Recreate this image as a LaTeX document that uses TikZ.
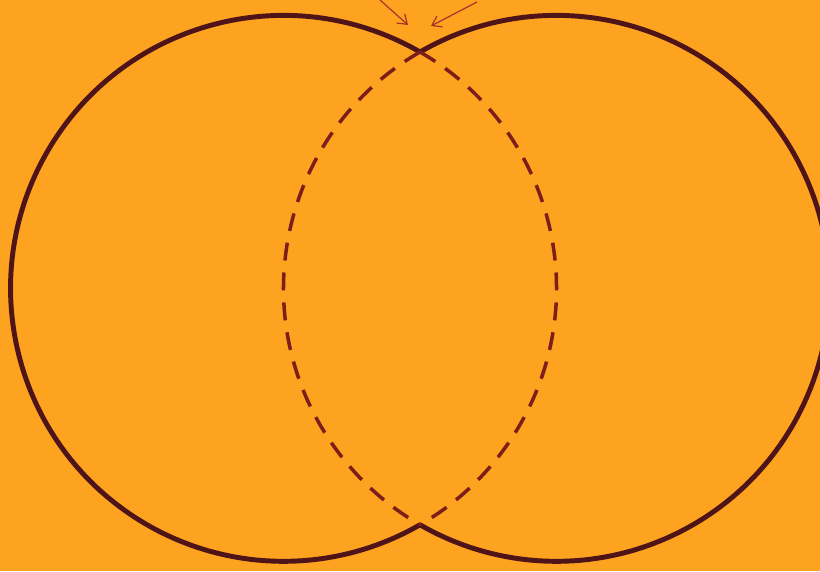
\documentclass[tikz,border=0pt]{standalone}
\usetikzlibrary{arrows.meta}

\definecolor{sheet}{RGB}{253,163,32}
\definecolor{ink}{RGB}{78,20,24}
\definecolor{seamred}{RGB}{125,30,26}
\definecolor{pointred}{RGB}{170,52,38}

\begin{document}
\begin{tikzpicture}[x=0.02cm,y=0.02cm,
    ring/.style={draw=ink, line width=2.8pt},
    seam/.style={draw=seamred, line width=2pt, dash pattern=on 0.36cm off 0.24cm},
    pointer/.style={draw=pointred, line width=0.7pt, -{Straight Barb[length=5pt,width=7pt]}}]
  % sheet
  \fill[sheet] (0,0) rectangle (820,571);
  \useasboundingbox (0,0) rectangle (820,571);
  \clip (0,0) rectangle (820,571);
  % where the two rings cross
  \coordinate (top) at (420,519);
  \coordinate (bot) at (420,47);
  % outer arcs
  \draw[ring] (top) arc[start angle=60, end angle=300, radius=5.46cm];
  \draw[ring] (top) arc[start angle=120, end angle=-120, radius=5.46cm];
  % inner arcs
  \draw[seam] (top) arc[start angle=60, end angle=-60, radius=5.46cm];
  \draw[seam] (top) arc[start angle=120, end angle=240, radius=5.46cm];
  % the two pointers
  \coordinate (ltail) at (380,571);
  \coordinate (ltip) at (408,546);
  \coordinate (rtail) at (477,569);
  \coordinate (rtip) at (431,545);
  \draw[pointer] (ltail) -- (ltip);
  \draw[pointer] (rtail) -- (rtip);
\end{tikzpicture}
\end{document}
